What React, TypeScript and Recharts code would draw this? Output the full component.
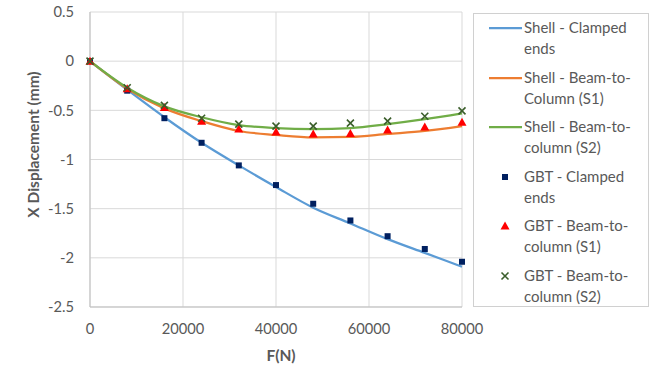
import React from 'react';
import { LineChart, Line, XAxis, YAxis, CartesianGrid } from 'recharts';

// Applied load (N)
const forces = [0, 8000, 16000, 24000, 32000, 40000, 48000, 56000, 64000, 72000, 80000];

// Shell model results (mm)
const shellClamped = [0, -0.29, -0.57, -0.83, -1.06, -1.28, -1.49, -1.65, -1.81, -1.95, -2.09];
const shellBeamS1 = [0, -0.28, -0.48, -0.61, -0.71, -0.75, -0.775, -0.77, -0.74, -0.71, -0.66];
const shellBeamS2 = [0, -0.27, -0.46, -0.57, -0.65, -0.68, -0.69, -0.68, -0.64, -0.59, -0.53];

// GBT results (mm)
const gbtClamped = [0, -0.3, -0.58, -0.83, -1.06, -1.26, -1.45, -1.62, -1.78, -1.91, -2.04];
const gbtBeamS1 = [0, -0.28, -0.47, -0.61, -0.69, -0.72, -0.74, -0.735, -0.7, -0.67, -0.62];
const gbtBeamS2 = [0, -0.27, -0.45, -0.58, -0.64, -0.66, -0.66, -0.63, -0.61, -0.56, -0.505];

const xTicks = [0, 20000, 40000, 60000, 80000];
const yTicks = [0.5, 0, -0.5, -1, -1.5, -2, -2.5];

const data = forces.map((f, i) => ({
  f,
  shellClamped: shellClamped[i],
  shellBeamS1: shellBeamS1[i],
  shellBeamS2: shellBeamS2[i],
  gbtClamped: gbtClamped[i],
  gbtBeamS1: gbtBeamS1[i],
  gbtBeamS2: gbtBeamS2[i],
}));

const FONT = 'Lato, "Open Sans", sans-serif';
const TEXT = '#595959';

const BLUE = '#5b9bd5';
const ORANGE = '#ed7d31';
const GREEN = '#70ad47';
const NAVY = '#002060';
const RED = '#ff0000';
const DKGREEN = '#3b5e2b';

const Square = ({ cx, cy, color }: any) => (
  <rect x={cx - 3} y={cy - 3} width={6} height={6} fill={color} />
);

const Triangle = ({ cx, cy, color }: any) => (
  <path d={`M${cx},${cy - 4.5} L${cx + 4.5},${cy + 3.5} L${cx - 4.5},${cy + 3.5} Z`} fill={color} />
);

const Cross = ({ cx, cy, color }: any) => (
  <path
    d={`M${cx - 3.5},${cy - 3.5} L${cx + 3.5},${cy + 3.5} M${cx + 3.5},${cy - 3.5} L${cx - 3.5},${cy + 3.5}`}
    stroke={color}
    strokeWidth={1.6}
    fill="none"
  />
);

const dotFor = (Shape: any, color: string) => (props: any) => {
  if (props.cx == null || props.cy == null) return <g key={props.index} />;
  return (
    <g key={`${props.dataKey}-${props.index}`}>
      <Shape cx={props.cx} cy={props.cy} color={color} />
    </g>
  );
};

const legendItems = [
  { kind: 'line', color: BLUE, lines: ['Shell - Clamped', 'ends'] },
  { kind: 'line', color: ORANGE, lines: ['Shell - Beam-to-', 'Column (S1)'] },
  { kind: 'line', color: GREEN, lines: ['Shell - Beam-to-', 'column (S2)'] },
  { kind: 'square', color: NAVY, lines: ['GBT - Clamped', 'ends'] },
  { kind: 'triangle', color: RED, lines: ['GBT - Beam-to-', 'column (S1)'] },
  { kind: 'cross', color: DKGREEN, lines: ['GBT - Beam-to-', 'column (S2)'] },
];

const LegendBox = () => (
  <div
    style={{
      position: 'absolute',
      left: 473,
      top: 13,
      width: 176,
      height: 294,
      border: '1px solid #d0d0d0',
      background: '#fff',
      boxSizing: 'border-box',
      fontFamily: FONT,
      fontSize: 15,
      color: TEXT,
    }}
  >
    {legendItems.map((item, i) => (
      <div key={i} style={{ position: 'absolute', left: 0, top: 3 + i * 49.5, width: '100%', height: 44 }}>
        <svg width={40} height={22} style={{ position: 'absolute', left: 12, top: 0 }}>
          {item.kind === 'line' && <line x1={3} x2={36} y1={11} y2={11} stroke={item.color} strokeWidth={2.25} />}
          {item.kind === 'square' && <Square cx={19} cy={11} color={item.color} />}
          {item.kind === 'triangle' && <Triangle cx={19} cy={11} color={item.color} />}
          {item.kind === 'cross' && <Cross cx={19} cy={11} color={item.color} />}
        </svg>
        <div style={{ position: 'absolute', left: 50, top: 0, lineHeight: '21px', whiteSpace: 'nowrap' }}>
          {item.lines.map((t, j) => (
            <div key={j}>{t}</div>
          ))}
        </div>
      </div>
    ))}
  </div>
);

const titleStyle = { fill: TEXT, fontSize: 15.5, fontWeight: 700, fontFamily: FONT };

const YTitle = ({ viewBox }: any) => {
  const x = viewBox.x + 33;
  const y = viewBox.y + viewBox.height / 2 - 15;
  return (
    <text x={x} y={y} transform={`rotate(-90 ${x} ${y})`} textAnchor="middle" dominantBaseline="central" style={titleStyle}>
      X Displacement (mm)
    </text>
  );
};

const XTitle = ({ viewBox }: any) => {
  const x = viewBox.x + viewBox.width / 2 + 5;
  const y = viewBox.y + 48;
  return (
    <text x={x} y={y} textAnchor="middle" dominantBaseline="central" style={titleStyle}>
      F(N)
    </text>
  );
};

export default function App() {
  return (
    <div style={{ position: 'absolute', left: 0, top: 0, width: 653, height: 369, background: '#fff' }}>
      <LineChart
        width={653}
        height={369}
        data={data}
        margin={{ top: 12, right: 191, left: 0, bottom: 6 }}
      >
        <CartesianGrid stroke="#d9d9d9" strokeWidth={1} />
        <XAxis
          dataKey="f"
          type="number"
          domain={[0, 80000]}
          ticks={xTicks}
          height={56}
          tickLine={false}
          axisLine={{ stroke: '#bfbfbf' }}
          tickMargin={11}
          tick={{ fill: TEXT, fontSize: 14.7, fontFamily: FONT }}
          label={{ content: (p: any) => <XTitle {...p} /> }}
        />
        <YAxis
          type="number"
          domain={[-2.5, 0.5]}
          ticks={yTicks}
          width={90}
          tickLine={false}
          axisLine={{ stroke: '#bfbfbf' }}
          tickMargin={10}
          tick={{ fill: TEXT, fontSize: 14.7, fontFamily: FONT }}
          label={{ content: (p: any) => <YTitle {...p} /> }}
        />
        <Line type="monotone" dataKey="shellClamped" stroke={BLUE} strokeWidth={2.25} dot={false} isAnimationActive={false} />
        <Line type="monotone" dataKey="shellBeamS1" stroke={ORANGE} strokeWidth={2.25} dot={false} isAnimationActive={false} />
        <Line type="monotone" dataKey="shellBeamS2" stroke={GREEN} strokeWidth={2.25} dot={false} isAnimationActive={false} />
        <Line dataKey="gbtClamped" stroke="none" dot={dotFor(Square, NAVY)} activeDot={false} isAnimationActive={false} />
        <Line dataKey="gbtBeamS1" stroke="none" dot={dotFor(Triangle, RED)} activeDot={false} isAnimationActive={false} />
        <Line dataKey="gbtBeamS2" stroke="none" dot={dotFor(Cross, DKGREEN)} activeDot={false} isAnimationActive={false} />
      </LineChart>
      <LegendBox />
    </div>
  );
}
